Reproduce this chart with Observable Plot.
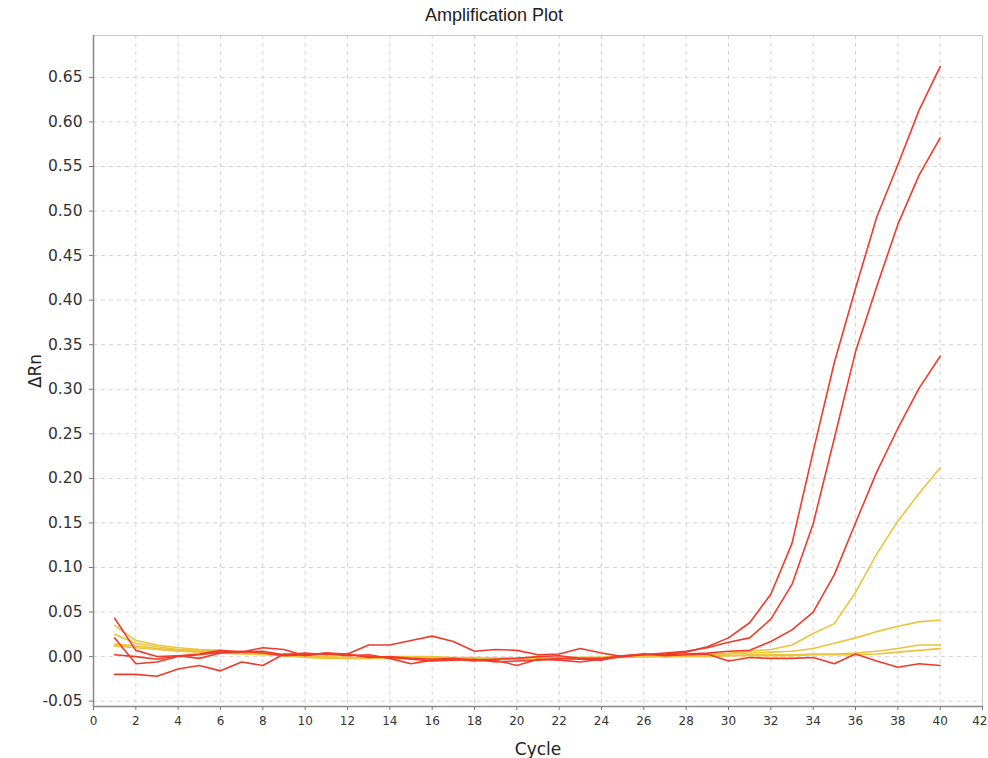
<!DOCTYPE html>
<html>
<head>
<meta charset="utf-8">
<script src="https://cdn.jsdelivr.net/npm/d3@7"></script>
<script src="https://cdn.jsdelivr.net/npm/@observablehq/plot@0.6"></script>
<style>
  html, body { margin: 0; padding: 0; background: #fff; }
  #title { width: 988px; height: 30px; line-height: 30px; text-align: center;
           font-family: "Liberation Sans", Arial, sans-serif; font-size: 18px; color: #222; }
  #chart svg { display: block; font-family: "DejaVu Sans", sans-serif; color: #333; }
  #chart g[aria-label="y-axis tick label"] { font-size: 15.5px; }
  #chart g[aria-label="x-axis tick label"] { font-size: 12px; }
  #chart g[aria-label="x-axis label"], #chart g[aria-label="y-axis label"] { font-size: 17px; fill: #222; }
</style>
</head>
<body>
<div id="title">Amplification Plot</div>
<div id="chart"></div>
<script>
const cycles = d3.range(1, 41);
const xTicks = [0,2,4,6,8,10,12,14,16,18,20,22,24,26,28,30,32,34,36,38,40];
const xLastTick = [42];
const yTicks = [-0.05,0,0.05,0.1,0.15,0.2,0.25,0.3,0.35,0.4,0.45,0.5,0.55,0.6,0.65];

const seriesNames = ["R1","R2","R3","R4","Y1","Y2","Y3","Y4"];
const seriesGroup = ["red","red","red","red","yellow","yellow","yellow","yellow"];

const R1 = [0.021,-0.008,-0.006,0.000,0.002,0.005,0.006,0.004,0.001,0.002,
            0.003,0.001,0.002,-0.002,-0.008,-0.004,-0.003,-0.005,-0.004,-0.010,
            -0.003,-0.004,-0.006,-0.003,0.000,0.002,0.003,0.005,0.011,0.021,
            0.038,0.070,0.127,0.230,0.330,0.413,0.493,0.552,0.613,0.662];
const R2 = [0.043,0.007,0.000,0.001,-0.002,0.004,0.005,0.010,0.008,0.001,
            0.004,0.002,0.000,-0.001,-0.003,-0.005,-0.004,-0.003,-0.006,-0.005,
            -0.004,-0.002,-0.003,-0.004,0.001,0.002,0.004,0.006,0.010,0.016,
            0.021,0.042,0.081,0.149,0.245,0.342,0.415,0.485,0.540,0.582];
const R3 = [0.002,0.000,-0.003,0.001,0.003,0.007,0.005,0.006,0.002,0.004,
            0.002,0.003,-0.001,0.000,-0.002,-0.003,-0.002,-0.004,-0.003,-0.002,
            0.000,0.001,-0.002,-0.002,0.001,0.003,0.002,0.003,0.004,0.006,
            0.007,0.017,0.030,0.050,0.092,0.150,0.207,0.256,0.301,0.337];
const R4 = [-0.020,-0.020,-0.022,-0.014,-0.010,-0.016,-0.006,-0.010,0.003,0.002,
            0.004,0.003,0.013,0.013,0.018,0.023,0.017,0.006,0.008,0.007,
            0.002,0.003,0.009,0.004,0.000,0.003,0.001,0.002,0.003,-0.005,
            -0.001,-0.002,-0.002,-0.001,-0.008,0.003,-0.005,-0.012,-0.008,-0.010];
const Y1 = [0.025,0.015,0.011,0.008,0.007,0.006,0.005,0.003,0.002,0.001,
            0.000,-0.001,-0.002,-0.001,-0.001,-0.001,-0.002,-0.002,-0.002,-0.002,
            -0.002,-0.002,-0.001,-0.001,0.000,0.001,0.001,0.002,0.003,0.004,
            0.006,0.008,0.013,0.026,0.037,0.072,0.115,0.152,0.183,0.212];
const Y2 = [0.035,0.018,0.013,0.010,0.008,0.007,0.005,0.004,0.002,0.000,
            -0.001,-0.002,-0.002,-0.002,-0.002,-0.002,-0.003,-0.003,-0.003,-0.003,
            -0.002,-0.002,-0.002,-0.001,0.000,0.000,0.001,0.001,0.002,0.003,
            0.004,0.005,0.006,0.009,0.015,0.021,0.028,0.034,0.039,0.041];
const Y3 = [0.014,0.012,0.009,0.007,0.006,0.005,0.004,0.003,0.001,0.000,
            -0.001,-0.001,-0.001,0.000,0.000,0.000,-0.001,-0.001,-0.002,-0.002,
            -0.002,-0.001,-0.001,-0.001,0.000,0.000,0.000,0.001,0.001,0.001,
            0.002,0.002,0.002,0.003,0.003,0.004,0.006,0.009,0.013,0.013];
const Y4 = [0.012,0.010,0.008,0.006,0.005,0.004,0.003,0.002,0.001,-0.001,
            -0.002,-0.002,-0.002,-0.001,-0.001,-0.001,-0.002,-0.002,-0.002,-0.002,
            -0.002,-0.002,-0.001,-0.001,-0.001,0.000,0.000,0.000,0.000,0.001,
            0.001,0.001,0.001,0.002,0.002,0.002,0.003,0.005,0.007,0.009];

const seriesValues = [R1, R2, R3, R4, Y1, Y2, Y3, Y4];
const groupColors = {red: "#ef3b2c", yellow: "#ecc33c"};

const rows = [];
seriesValues.forEach((vals, i) => {
  vals.forEach((v, j) => rows.push({cycle: cycles[j], value: v, series: seriesNames[i], group: seriesGroup[i]}));
});
const yellowRows = rows.filter(d => d.group === "yellow");
const redRows = rows.filter(d => d.group === "red");

const yDomain = [-0.056, 0.697];
const fmt = d => (Math.abs(d) < 1e-9 ? 0 : d).toFixed(2);

const chart = Plot.plot({
  width: 988,
  height: 728,
  marginLeft: 93,
  marginRight: 6,
  marginTop: 5,
  marginBottom: 52,
  x: {domain: [0, 42]},
  y: {domain: yDomain},
  marks: [
    Plot.gridX(xTicks, {stroke: "#d4d4d4", strokeOpacity: 1, strokeDasharray: "4,4"}),
    Plot.gridY(yTicks, {stroke: "#d4d4d4", strokeOpacity: 1, strokeDasharray: "4,4"}),
    Plot.frame({stroke: "#c8c8c8"}),
    Plot.axisX(xTicks, {tickSize: 4, tickPadding: 6, stroke: "#777", label: "Cycle", labelAnchor: "center", labelOffset: 48, labelArrow: "none"}),
    Plot.axisX(xLastTick, {tickSize: 4, stroke: "#777", tickFormat: () => "", label: null}),
    Plot.axisX(xLastTick, {tickSize: 0, tickPadding: 10, label: null, textAnchor: "end", dx: 5}),
    Plot.axisY(yTicks, {tickSize: 4, tickPadding: 7, stroke: "#777", tickFormat: fmt, label: "ΔRn", labelAnchor: "center", labelOffset: 65, labelArrow: "none"}),
    Plot.ruleX([0], {stroke: "#888", strokeWidth: 1.5}),
    Plot.ruleY([yDomain[0]], {stroke: "#888", strokeWidth: 1.5}),
    Plot.line(yellowRows, {x: "cycle", y: "value", z: "series", stroke: d => groupColors[d.group], strokeWidth: 1.6}),
    Plot.line(redRows, {x: "cycle", y: "value", z: "series", stroke: d => groupColors[d.group], strokeWidth: 1.6})
  ]
});
document.getElementById("chart").appendChild(chart);
</script>
</body>
</html>
